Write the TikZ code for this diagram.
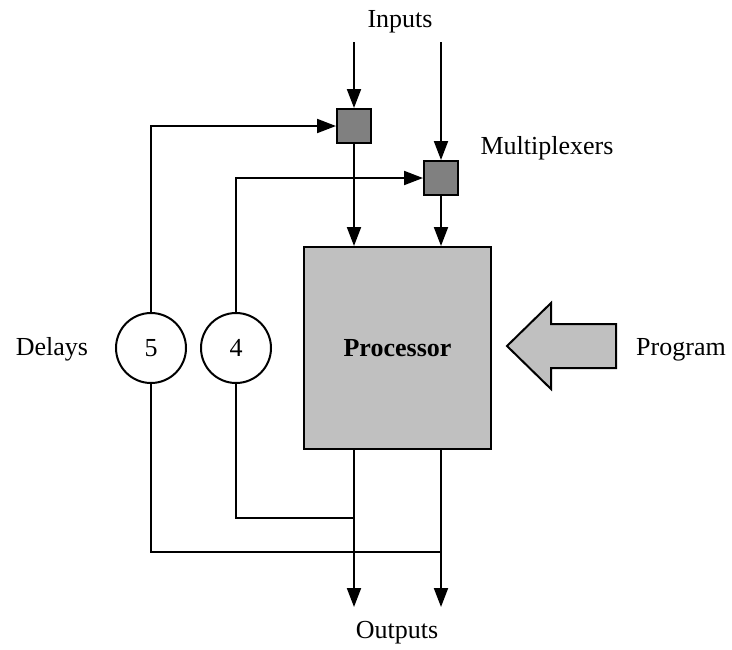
\documentclass[tikz,border=0pt]{standalone}
\usepackage{fontspec}
\setmainfont{Liberation Serif}
\usetikzlibrary{arrows.meta}
\definecolor{muxgray}{HTML}{808080}
\definecolor{procgray}{HTML}{C0C0C0}
\begin{document}
\begin{tikzpicture}[x=1pt,y=-1pt,
  line width=2pt,
  arr/.style={-{Triangle[length=19pt,width=14pt]}},
  mux/.style={draw,fill=muxgray,minimum size=34pt,inner sep=0pt},
  delay/.style={draw,circle,minimum size=70pt,inner sep=0pt,font=\fontsize{26}{30}\selectfont},
  lbl/.style={font=\fontsize{26}{30}\selectfont,inner sep=0pt,anchor=base}]
\useasboundingbox (0,0) rectangle (732,649);
% nodes
\node[mux] (mux1) at (354,126) {};
\node[mux] (mux2) at (441,178) {};
\node[draw,fill=procgray,minimum width=187pt,minimum height=202pt,inner sep=0pt,
      font=\fontsize{26}{30}\selectfont\bfseries] (proc) at (397.5,348) {Processor};
\node[delay] (c5) at (151,348) {5};
\node[delay] (c4) at (236,348) {4};
\node[lbl] (inputs) at (400,27) {Inputs};
\node[lbl] (outputs) at (397,638) {Outputs};
\node[lbl] (delays) at (52,355) {Delays};
\node[lbl] (mplx) at (547,154) {Multiplexers};
\node[lbl] (prog) at (681,355) {Program};
\coordinate (in1) at (354,42);
\coordinate (in2) at (441,42);
\coordinate (out1) at (354,607);
\coordinate (out2) at (441,607);
\coordinate (j1) at (354,518);
\coordinate (j2) at (441,552);
% program arrow
\draw[fill=procgray] (507,346) -- (551,303) -- (551,324) -- (616,324) -- (616,368)
  -- (551,368) -- (551,389) -- cycle;
% connectors
\draw[arr] (in1) -- (mux1.north);
\draw[arr] (in2) -- (mux2.north);
\draw[arr] (c5.north) |- (mux1.west);
\draw[arr] (c4.north) |- (mux2.west);
\draw[arr] (mux1.south) -- (mux1.south |- proc.north);
\draw[arr] (mux2.south) -- (mux2.south |- proc.north);
\draw[arr] (out1 |- proc.south) -- (out1);
\draw[arr] (out2 |- proc.south) -- (out2);
\draw (c4.south) |- (j1);
\draw (c5.south) |- (j2);
\end{tikzpicture}
\end{document}
